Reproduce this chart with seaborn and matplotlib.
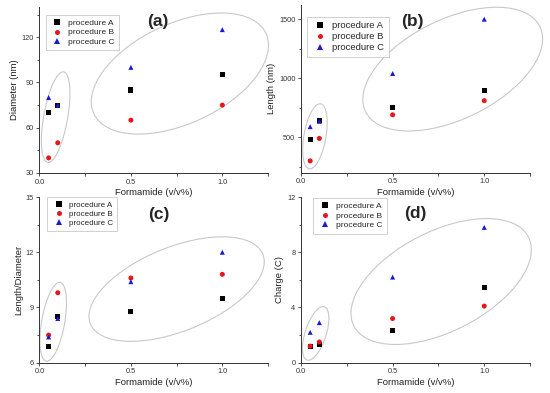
import numpy as np
import pandas as pd
import matplotlib
matplotlib.use("Agg")
import matplotlib.pyplot as plt
from matplotlib.patches import Ellipse
from matplotlib.transforms import ScaledTranslation
from matplotlib.ticker import MultipleLocator
import seaborn as sns

# ---- data ----
formamide = [0.05, 0.1, 0.5, 1.0]
procedures = ["procedure A", "procedure B", "procedure C"]

diameter_A = [70, 75, 85, 95]
diameter_B = [40, 50, 65, 75]
diameter_C = [80, 75, 100, 125]

length_A = [480, 640, 750, 900]
length_B = [300, 490, 690, 810]
length_C = [590, 635, 1040, 1500]

ratio_A = [6.9, 8.5, 8.8, 9.5]
ratio_B = [7.5, 9.8, 10.6, 10.8]
ratio_C = [7.4, 8.4, 10.4, 12.0]

charge_A = [1.2, 1.35, 2.35, 5.45]
charge_B = [1.2, 1.5, 3.2, 4.1]
charge_C = [2.2, 2.9, 6.2, 9.8]

panel_labels = ["(a)", "(b)", "(c)", "(d)"]
y_labels = ["Diameter (nm)", "Length (nm)", "Length/Diameter", "Charge (C)"]
x_label = "Formamide (v/v%)"

sns.set_style("ticks")
plt.rcParams["font.family"] = ["Liberation Sans", "DejaVu Sans"]

fig = plt.figure(figsize=(5.5, 3.93), dpi=100)

panels = [
    dict(vals=(diameter_A, diameter_B, diameter_C), pos=[0.0718, 0.5598, 0.4155, 0.4224],
         ylim=(30, 140), ymaj=30, ymin=15,
         ell=[(0.0885, 67, 0.92, 0.24, 80), (0.768, 95.9, 1.90, 1.00, 25)],
         lab=(158, 21.7), leg=(0.027, 0.952), lfs=6.0),
    dict(vals=(length_A, length_B, length_C), pos=[0.5473, 0.5606, 0.4164, 0.4267],
         ylim=(200, 1620), ymaj=500, ymin=250,
         ell=[(0.076, 508, 0.66, 0.22, 80), (0.828, 1077, 1.94, 1.00, 26)],
         lab=(412.3, 21.7), leg=(0.025, 0.93), lfs=6.8),
    dict(vals=(ratio_A, ratio_B, ratio_C), pos=[0.0718, 0.0771, 0.4155, 0.4216],
         ylim=(6, 15), ymaj=3, ymin=1.5,
         ell=[(0.075, 8.22, 0.80, 0.23, 80), (0.75, 10.0, 1.86, 0.84, 22)],
         lab=(159.3, 214.3), leg=(0.034, 1.0), lfs=5.8),
    dict(vals=(charge_A, charge_B, charge_C), pos=[0.5473, 0.0771, 0.4164, 0.4216],
         ylim=(0, 12), ymaj=4, ymin=2,
         ell=[(0.08, 2.12, 0.56, 0.21, 72), (0.765, 5.88, 1.96, 1.00, 27)],
         lab=(415, 213.3), leg=(0.054, 0.992), lfs=6.0),
]

palette = {"procedure A": "black", "procedure B": "#e8161b", "procedure C": "#1a1ad6"}
markers = {"procedure A": "s", "procedure B": "o", "procedure C": "^"}

for i, p in enumerate(panels):
    ax = fig.add_axes(p["pos"])
    rows = []
    for proc, vals in zip(procedures, p["vals"]):
        for x, v in zip(formamide, vals):
            rows.append({"x": x, "y": v, "proc": proc})
    df = pd.DataFrame(rows)
    sns.scatterplot(data=df, x="x", y="y", hue="proc", style="proc",
                    palette=palette, markers=markers, s=13, linewidth=0,
                    ax=ax, zorder=3)
    ax.set_xlim(0, 1.25)
    ax.set_ylim(*p["ylim"])
    ax.xaxis.set_major_locator(MultipleLocator(0.5))
    ax.xaxis.set_minor_locator(MultipleLocator(0.25))
    ax.yaxis.set_major_locator(MultipleLocator(p["ymaj"]))
    ax.yaxis.set_minor_locator(MultipleLocator(p["ymin"]))
    ax.xaxis.set_major_formatter(matplotlib.ticker.FormatStrFormatter("%.1f"))
    ax.tick_params(which="both", labelsize=5.3, colors="#333333", length=2.5, width=0.6, pad=1.5)
    ax.tick_params(which="minor", length=1.8)
    for s in ["top", "right"]:
        ax.spines[s].set_visible(False)
    for s in ["left", "bottom"]:
        ax.spines[s].set_linewidth(0.7)
        ax.spines[s].set_color("#333333")
    ax.set_xlabel(x_label, fontsize=6.8, labelpad=2, color="#222222")
    ax.set_ylabel(y_labels[i], fontsize=6.8, labelpad=2, color="#222222")
    for (cx, cy, w, h, ang) in p["ell"]:
        tr = fig.dpi_scale_trans + ScaledTranslation(cx, cy, ax.transData)
        e = Ellipse((0, 0), w, h, angle=ang, transform=tr, fill=False,
                    edgecolor="#c8c8c8", linewidth=0.8, clip_on=False, zorder=1)
        ax.add_patch(e)
    leg = ax.legend(loc="upper left", bbox_to_anchor=p["leg"], fontsize=p["lfs"],
                    frameon=True, fancybox=False, edgecolor="#bbbbbb",
                    handletextpad=0.4, borderpad=0.5, labelspacing=0.2,
                    handlelength=1.8, markerscale=1.0, borderaxespad=0)
    leg.get_frame().set_linewidth(0.6)
    fig.text(p["lab"][0] / 550, 1 - p["lab"][1] / 393, panel_labels[i],
             fontsize=12.5, fontweight="bold", ha="center", va="center")

fig.savefig("out.png", dpi=100)
